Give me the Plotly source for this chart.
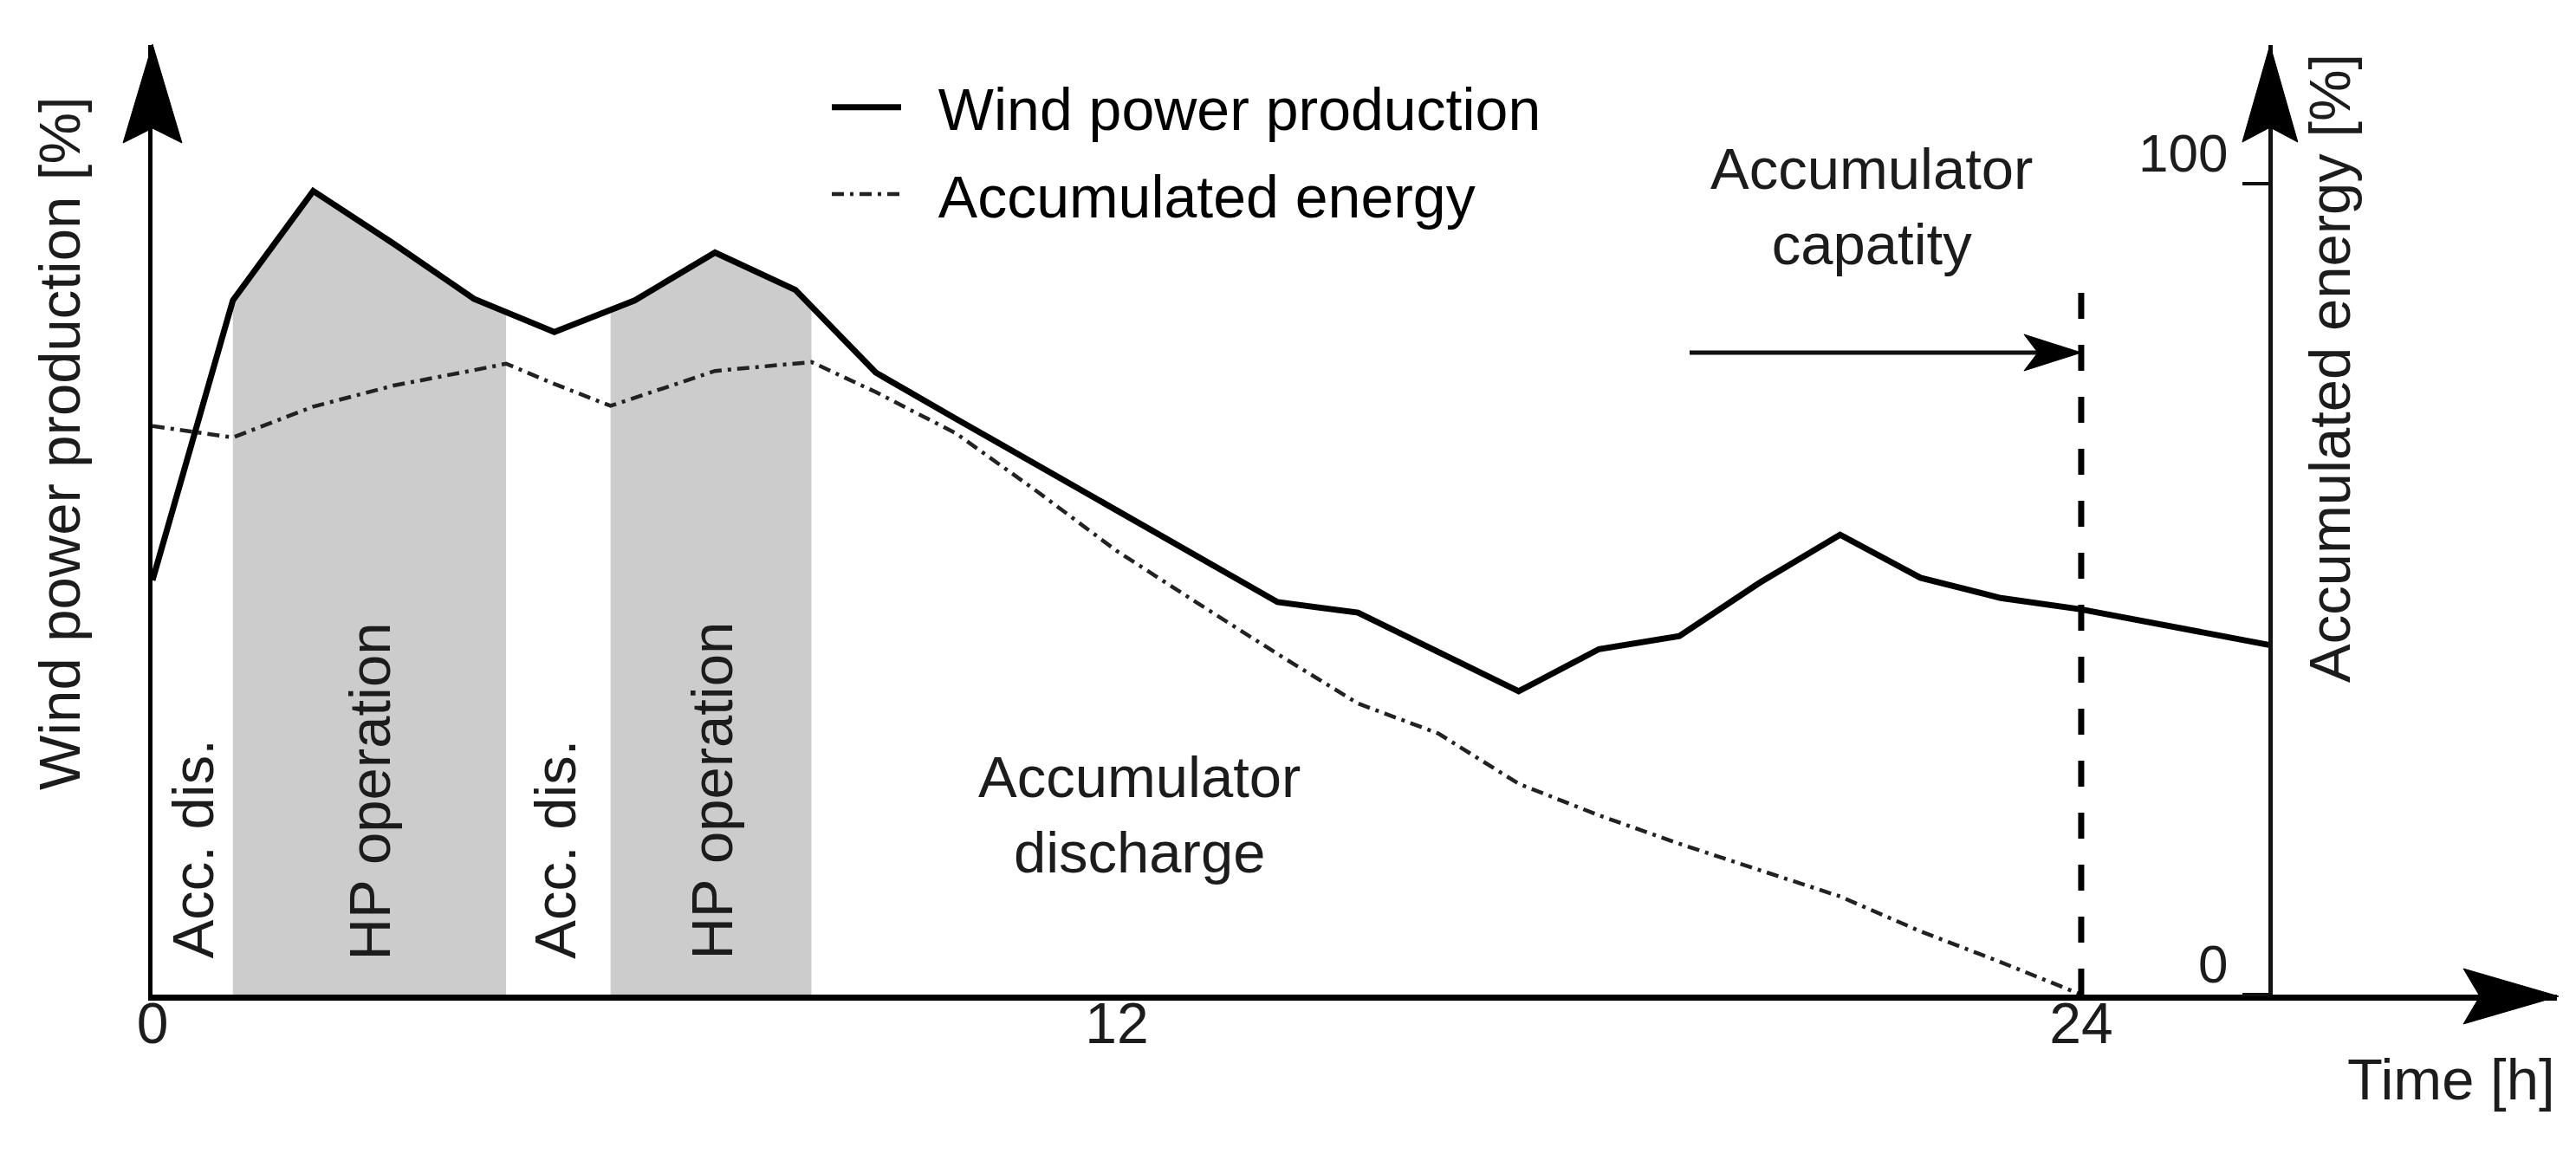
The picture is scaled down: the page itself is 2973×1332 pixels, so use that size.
import numpy as np
import plotly.graph_objects as go

# ---------------- data ----------------
hours_wind = [0, 1, 2, 3, 4, 5, 6, 7, 8, 9, 10, 11, 12, 13, 14, 15, 16, 17, 18, 19, 20, 21, 22, 23, 24, 26.35]
wind_power = [51.1, 85.6, 99.1, 92.6, 85.8, 81.7, 85.6, 91.5, 86.9, 76.7, 71.0, 65.4, 59.7, 54.1, 48.4,
              47.1, 42.2, 37.4, 42.6, 44.2, 50.8, 56.7, 51.4, 48.9, 47.5, 43.1]

hours_acc = [0, 1, 2, 3, 4, 4.4, 5, 5.7, 7, 8.2, 9, 10, 11, 12, 13, 14, 15, 16, 17, 18, 19, 20, 21, 22, 23, 24]
acc_energy = [70.1, 68.7, 72.5, 75.1, 77.0, 77.8, 75.3, 72.6, 76.9, 78.0, 74.3, 69.2, 62.1, 54.7, 48.3,
              42.0, 35.9, 32.2, 26.0, 22.1, 18.6, 15.4, 12.1, 7.8, 4.0, 0.0]

hp_start = [1.0, 5.7]
hp_end = [4.4, 8.2]
acc_dis_centers = [0.5, 5.0]

capacity_time = 24
capacity_top = 86.9
right_axis_time = 26.35

x_tick_vals = [0, 12, 24]
x_tick_text = ["0", "12", "24"]
y2_tick_vals = [0, 100]
y2_tick_text = ["0", "100"]

# ---------------- layout geometry (pixels, reference frame) ----------------
W, H = 2973, 1332
OFF = 8  # page body margin
PL, PR, PT, PB = 176, 2951, 52, 1148
X_MAX = 29.92
Y_MAX = 117.09


def px(x):
    return (x - PL) / (PR - PL)


def py(y):
    return (PB - y) / (PB - PT)


def tx(t):
    return PL + t / X_MAX * (PR - PL)


FONT = "Liberation Sans, Arial, sans-serif"
TXT = "#1c1c1c"
NB = "\u00a0\u00a0"

fig = go.Figure()

# shaded HP operation periods (area under wind curve)
for a, b in zip(hp_start, hp_end):
    inner = [h for h in hours_wind if a < h < b]
    xs = [a] + inner + [b]
    ys = list(np.interp(xs, hours_wind, wind_power))
    fig.add_trace(go.Scatter(
        x=[a] + xs + [b], y=[0] + ys + [0], fill="toself", fillcolor="#cccccc",
        line=dict(width=0), mode="lines", showlegend=False, hoverinfo="skip"))

fig.add_trace(go.Scatter(
    x=hours_acc, y=acc_energy, mode="lines", name=NB + "Accumulated energy",
    legendgroup="acc", legendrank=2,
    line=dict(color="#222222", width=4.5, dash="14px,7px,4px,7px")))

fig.add_trace(go.Scatter(
    x=hours_wind, y=wind_power, mode="lines", name=NB + "Wind power production",
    legendgroup="wind", legendrank=1,
    line=dict(color="black", width=7)))

# second (right) axis carrying the accumulated-energy scale
fig.add_trace(go.Scatter(x=[right_axis_time], y=[0], yaxis="y2", mode="markers",
                         marker=dict(size=0.1, opacity=0), showlegend=False, hoverinfo="skip"))

shapes = []
shapes.append(dict(type="line", xref="x", yref="y", x0=capacity_time, x1=capacity_time,
                   y0=0, y1=capacity_top, line=dict(color="black", width=7, dash="30px,30px")))

ax0, ax1, ay = 1950, tx(capacity_time), 407
shapes.append(dict(type="line", xref="paper", yref="paper", x0=px(ax0), x1=px(ax1 - 30),
                   y0=py(ay), y1=py(ay), line=dict(color="#111", width=5)))


def head(tip, c1, notch, c2):
    pts = [tip, c1, notch, c2]
    d = "M " + " L ".join(f"{px(a):.5f},{py(b):.5f}" for a, b in pts) + " Z"
    return dict(type="path", xref="paper", yref="paper", path=d,
                fillcolor="black", line=dict(color="black", width=1))


shapes.append(head((ax1, ay), (ax1 - 66, ay - 21), (ax1 - 50, ay), (ax1 - 66, ay + 21)))
shapes.append(head((176, 51), (142, 165), (176, 148), (210, 165)))
x2p = tx(right_axis_time)
shapes.append(head((x2p, 52), (x2p - 32, 164), (x2p, 147), (x2p + 32, 164)))
shapes.append(head((2953, PB + 2), (2843, PB - 30), (2862, PB + 2), (2843, PB + 34)))

ann = []


def text(x, y, s, size=67, angle=0, xanchor="center", yanchor="middle", color=TXT):
    ann.append(dict(x=px(x), y=py(y), xref="paper", yref="paper", text=s, showarrow=False,
                    textangle=angle, xanchor=xanchor, yanchor=yanchor,
                    font=dict(family=FONT, size=size, color=color)))


for c in acc_dis_centers:
    text(tx(c), 980, "Acc. dis.", angle=-90)
for a, b in zip(hp_start, hp_end):
    text(tx((a + b) / 2), 913, "HP operation", angle=-90)
text(1315, 940, "Accumulator<br>discharge")
text(2160, 238, "Accumulator<br>capatity")
text(68, 512, "Wind power production [%]", angle=-90)
text(2688, 425, "Accumulated energy [%]", angle=-90)
text(2951, 1245, "Time [h]", xanchor="right")

fig.update_layout(
    width=W - OFF, height=H - OFF,
    margin=dict(l=PL - OFF, r=W - PR, t=PT - OFF, b=H - PB, autoexpand=False),
    paper_bgcolor="white", plot_bgcolor="white",
    shapes=shapes, annotations=ann,
    font=dict(family=FONT, color=TXT),
    legend=dict(x=px(955), y=py(73), xanchor="left", yanchor="top",
                font=dict(family=FONT, size=68, color="black"),
                bgcolor="rgba(0,0,0,0)", itemwidth=80, traceorder="grouped",
                tracegroupgap=9),
    xaxis=dict(range=[0, X_MAX], showgrid=False, zeroline=False, showline=True,
               linecolor="black", linewidth=7, ticks="", tickvals=x_tick_vals,
               ticktext=x_tick_text, ticklabelstandoff=-30,
               tickfont=dict(size=66, family=FONT, color=TXT)),
    yaxis=dict(range=[0, Y_MAX], showgrid=False, zeroline=False, showline=True,
               linecolor="black", linewidth=5, showticklabels=False, ticks=""),
    yaxis2=dict(range=[0, Y_MAX], overlaying="y", anchor="free",
                position=right_axis_time / X_MAX, side="left", showgrid=False,
                zeroline=False, showline=True, linecolor="#111", linewidth=5,
                ticks="outside", ticklen=30, tickwidth=4, tickcolor="#111",
                tickvals=y2_tick_vals, ticktext=y2_tick_text,
                ticklabelposition="outside top", ticklabelstandoff=34,
                ticklabelshift=10,
                tickfont=dict(size=62, family=FONT, color=TXT)),
)

fig.write_html("out.html")
